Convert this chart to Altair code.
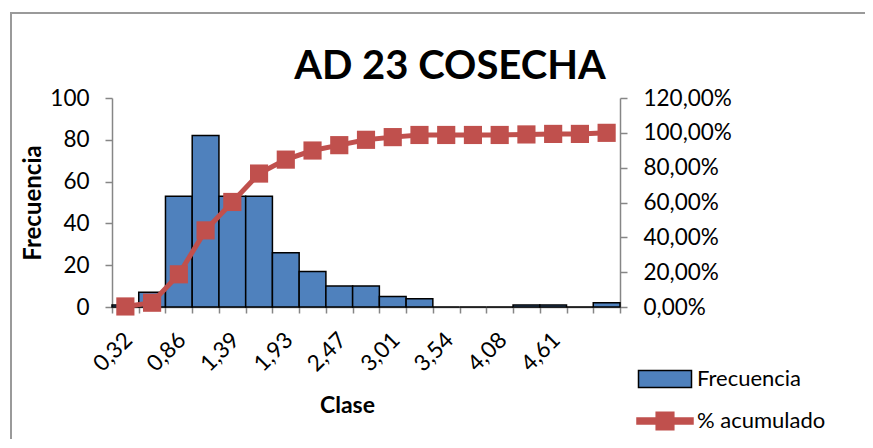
import json
import altair as alt
import pandas as pd

# ---- data ----
classes = ["0,32", "0,59", "0,86", "1,12", "1,39", "1,66", "1,93", "2,20", "2,47",
           "2,74", "3,01", "3,27", "3,54", "3,81", "4,08", "4,34", "4,61", "4,88",
           "y mayor..."]
frecuencia = [1, 7, 53, 82, 53, 53, 26, 17, 10, 10, 5, 4, 0, 0, 0, 1, 1, 0, 2]
acumulado = [0.0031, 0.0246, 0.1877, 0.4400, 0.6031, 0.7662, 0.8462, 0.8985,
             0.9292, 0.9600, 0.9754, 0.9877, 0.9877, 0.9877, 0.9877, 0.9908,
             0.9938, 0.9938, 1.0000]
tick_labels = ["0,32", "0,86", "1,39", "1,93", "2,47", "3,01", "3,54", "4,08", "4,61"]
series = ["Frecuencia", "% acumulado"]

BLUE = "#4F81BD"
RED = "#C0504D"
GRAY = "#868686"
FONT = "Lato"

df = pd.DataFrame({"clase": classes, "frecuencia": frecuencia, "acum": acumulado})

W, H = 508, 209

x_enc = alt.X(
    "clase:N",
    sort=classes,
    scale=alt.Scale(paddingInner=0, paddingOuter=0),
    axis=alt.Axis(
        title="Clase",
        titleFont=FONT, titleFontSize=23, titleFontWeight="bold",
        titleX=235, titleY=98, titleBaseline="middle",
        labelExpr="indexof(" + json.dumps(tick_labels) + ", datum.value) >= 0 ? datum.value : ''",
        labelAngle=-45, labelAlign="right", labelBaseline="middle",
        labelPadding=23, labelOffset=3, labelFontSize=22.5, labelFont=FONT,
        tickBand="extent", tickSize=6, labelOverlap=False,
    ),
)

bars = alt.Chart(df).mark_bar(
    fill=BLUE, stroke="black", strokeWidth=1.5
).encode(
    x=x_enc,
    y=alt.Y(
        "frecuencia:Q",
        scale=alt.Scale(domain=[0, 100], nice=False),
        axis=alt.Axis(
            title="Frecuencia", values=[0, 20, 40, 60, 80, 100],
            titleFont=FONT, titleFontSize=24, titleFontWeight="bold",
            titleX=-79, titleY=H / 2, titleBaseline="middle",
            labelFontSize=22.5, labelFont=FONT, labelPadding=16, tickSize=7,
            grid=False,
        ),
    ),
)

y_right = alt.Y(
    "acum:Q",
    scale=alt.Scale(domain=[0, 1.2], nice=False),
    axis=alt.Axis(
        title=None, orient="right", values=[0, 0.2, 0.4, 0.6, 0.8, 1.0, 1.2],
        labelExpr="replace(format(datum.value, '.2%'), '.', ',')",
        labelFontSize=22.5, labelFont=FONT, labelPadding=16, tickSize=7,
        grid=False,
    ),
)

line = alt.Chart(df).mark_line(color=RED, strokeWidth=5).encode(x=x_enc, y=y_right)
pts = alt.Chart(df).mark_point(
    shape="square", filled=True, size=330, color=RED, opacity=1
).encode(x=x_enc, y=y_right)

legend = alt.Legend(
    title=None, orient="none", legendX=537, legendY=265,
    labelFont=FONT, labelFontSize=22, labelColor="black",
    symbolSize=900, symbolStrokeWidth=1.5, symbolOpacity=1, labelOffset=16,
    rowPadding=14, padding=0,
)
rect_path = "M-1.767,-0.567H1.767V0.567H-1.767Z"
line_path = ("M-1.867,-0.2H-0.587V-0.587H0.587V-0.2H1.867V0.2H0.587V0.587"
             "H-0.587V0.2H-1.867Z")
legend_layer = alt.Chart(df).transform_filter("datum.frecuencia < 0").transform_calculate(
    serie="'% acumulado'"
).mark_point(filled=True, opacity=1).encode(
    x=x_enc, y=y_right,
    fill=alt.Fill("serie:N", scale=alt.Scale(domain=series, range=[BLUE, RED]), legend=legend),
    stroke=alt.Stroke("serie:N", scale=alt.Scale(domain=series, range=["black", RED]), legend=legend),
    shape=alt.Shape("serie:N", scale=alt.Scale(domain=series, range=[rect_path, line_path]), legend=legend),
)

frame = alt.Chart(pd.DataFrame({"k": [0]})).mark_rect(
    fill=None, stroke="#9a9a9a", strokeWidth=2
).encode(
    x=alt.value(-101), x2=alt.value(900), y=alt.value(-85), y2=alt.value(400)
)

right = alt.layer(line, pts, legend_layer)
chart = alt.layer(frame, bars, right).resolve_scale(y="independent").properties(
    width=W, height=H,
    autosize=alt.AutoSizeParams(type="none"),
    padding={"left": 104, "top": 90, "right": 245, "bottom": 132},
    title=alt.TitleParams(
        "AD 23 COSECHA", font=FONT, fontSize=40, fontWeight="bold", color="black",
        anchor="middle", frame="group", dx=84, dy=126, offset=19, baseline="alphabetic",
    ),
).configure_view(stroke=None).configure_axis(
    domainColor=GRAY, domainWidth=1.5, tickColor=GRAY, tickWidth=1.5,
    labelColor="black", titleColor="black",
)

chart.save("out.html", embed_options={"renderer": "svg", "actions": False})
